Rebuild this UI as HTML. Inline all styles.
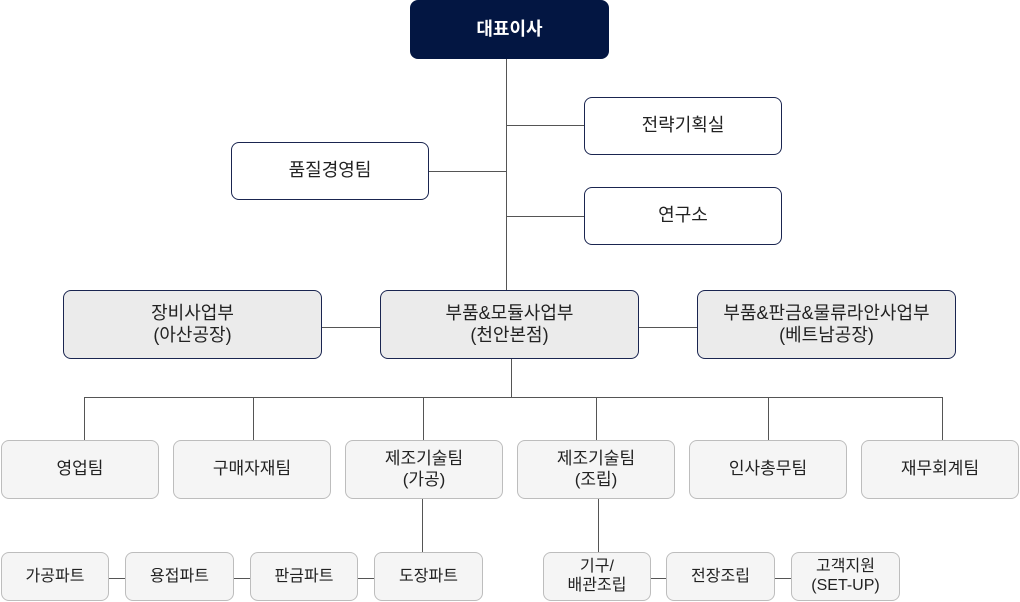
<!DOCTYPE html>
<html><head><meta charset="utf-8"><style>
*{margin:0;padding:0;box-sizing:border-box}
body{width:1020px;height:602px;background:#fff;position:relative;overflow:hidden;font-family:"Liberation Sans","Noto Sans CJK KR",sans-serif;color:#222}
.b{position:absolute;display:flex;align-items:center;justify-content:center;text-align:center;line-height:1.2}
.t{background:#fff;border:1px solid #1a2550;border-radius:8px;font-size:18px}
.m{background:#ebebeb;border:1px solid #1a2550;border-radius:8px;font-size:18px}
.s{background:#f5f5f5;border:1px solid #bdbdbd;border-radius:8px;font-size:17px}
.p{background:#f5f5f5;border:1px solid #bdbdbd;border-radius:8px;font-size:16px}
.h{position:absolute;height:1px;background:#555}
.v{position:absolute;width:1px;background:#555}
</style></head><body>
<div class="v" style="left:506px;top:59px;height:231px"></div>
<div class="h" style="left:506px;top:125px;width:78px"></div>
<div class="h" style="left:429px;top:171px;width:78px"></div>
<div class="h" style="left:506px;top:216px;width:78px"></div>
<div class="h" style="left:322px;top:327px;width:58px"></div>
<div class="h" style="left:639px;top:327px;width:59px"></div>
<div class="v" style="left:511px;top:359px;height:38px"></div>
<div class="h" style="left:84px;top:397px;width:858px"></div>
<div class="v" style="left:84px;top:397px;height:43px"></div>
<div class="v" style="left:253px;top:397px;height:43px"></div>
<div class="v" style="left:423px;top:397px;height:43px"></div>
<div class="v" style="left:596px;top:397px;height:43px"></div>
<div class="v" style="left:768px;top:397px;height:43px"></div>
<div class="v" style="left:942px;top:397px;height:43px"></div>
<div class="v" style="left:422px;top:499px;height:53px"></div>
<div class="v" style="left:598px;top:499px;height:53px"></div>
<div class="h" style="left:109px;top:578px;width:16px"></div>
<div class="h" style="left:234px;top:578px;width:16px"></div>
<div class="h" style="left:358px;top:578px;width:16px"></div>
<div class="h" style="left:651px;top:578px;width:15px"></div>
<div class="h" style="left:775px;top:578px;width:16px"></div>

<div class="b" style="left:410px;top:0;width:199px;height:59px;background:#031642;color:#fff;border-radius:8px;font-size:18px;font-weight:bold">대표이사</div>
<div class="b t" style="left:584px;top:97px;width:198px;height:58px">전략기획실</div>
<div class="b t" style="left:231px;top:142px;width:198px;height:58px">품질경영팀</div>
<div class="b t" style="left:584px;top:187px;width:198px;height:58px">연구소</div>

<div class="b m" style="left:63px;top:290px;width:259px;height:69px">장비사업부<br>(아산공장)</div>
<div class="b m" style="left:380px;top:290px;width:259px;height:69px">부품&amp;모듈사업부<br>(천안본점)</div>
<div class="b m" style="left:697px;top:290px;width:259px;height:69px">부품&amp;판금&amp;물류라안사업부<br>(베트남공장)</div>

<div class="b s" style="left:1px;top:440px;width:158px;height:59px">영업팀</div>
<div class="b s" style="left:173px;top:440px;width:158px;height:59px">구매자재팀</div>
<div class="b s" style="left:345px;top:440px;width:158px;height:59px">제조기술팀<br>(가공)</div>
<div class="b s" style="left:517px;top:440px;width:158px;height:59px">제조기술팀<br>(조립)</div>
<div class="b s" style="left:689px;top:440px;width:158px;height:59px">인사총무팀</div>
<div class="b s" style="left:861px;top:440px;width:158px;height:59px">재무회계팀</div>

<div class="b p" style="left:1px;top:552px;width:108px;height:49px">가공파트</div>
<div class="b p" style="left:125px;top:552px;width:109px;height:49px">용접파트</div>
<div class="b p" style="left:250px;top:552px;width:108px;height:49px">판금파트</div>
<div class="b p" style="left:374px;top:552px;width:109px;height:49px">도장파트</div>
<div class="b p" style="left:543px;top:552px;width:108px;height:49px;line-height:1.15">기구/<br>배관조립</div>
<div class="b p" style="left:666px;top:552px;width:109px;height:49px">전장조립</div>
<div class="b p" style="left:791px;top:552px;width:109px;height:49px;line-height:1.15">고객지원<br>(SET-UP)</div>
</body></html>
